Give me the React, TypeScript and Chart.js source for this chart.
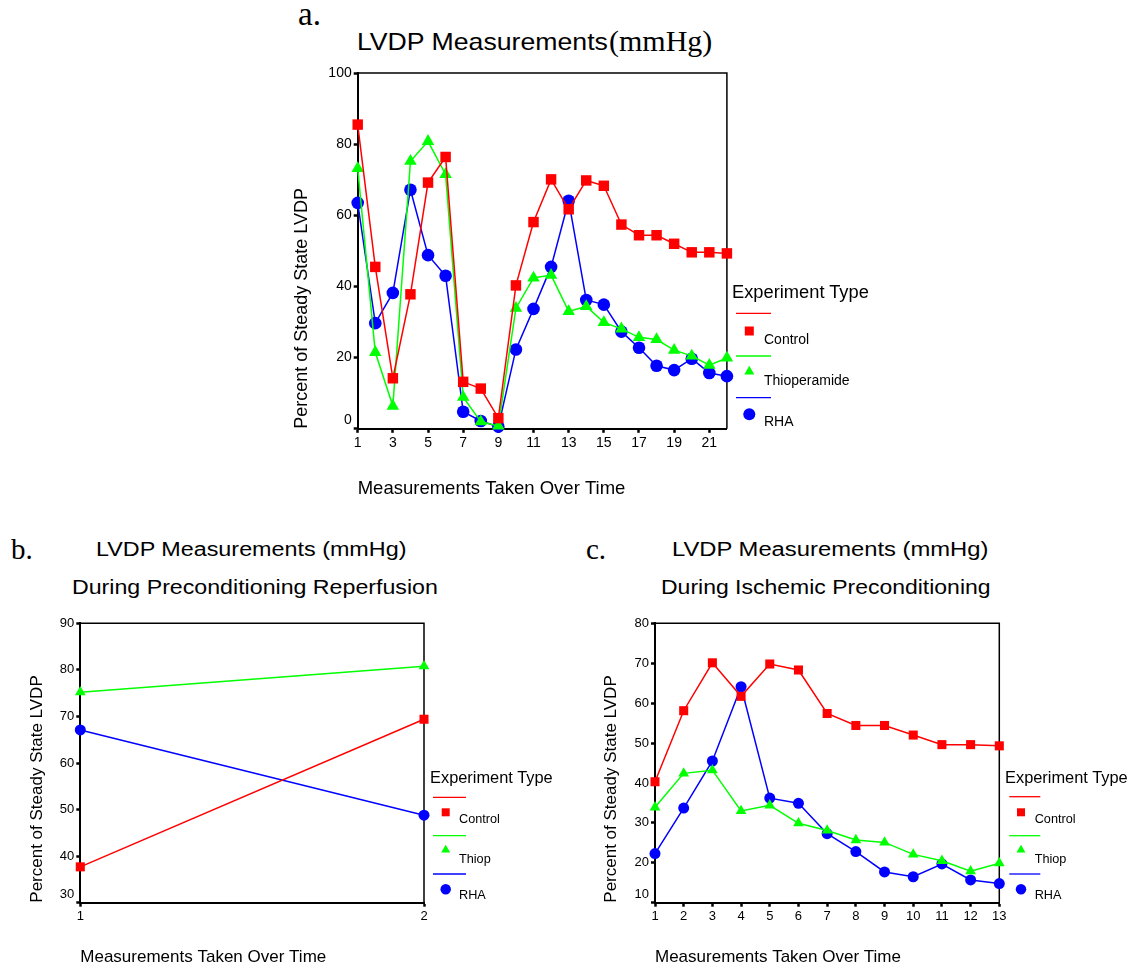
import React, { useEffect, useLayoutEffect, useRef } from 'react';
import { Chart, registerables } from 'chart.js';

Chart.register(...registerables);

const SANS = "'Liberation Sans', Arial, Helvetica, sans-serif";
const SERIF = "'Liberation Serif', 'Times New Roman', serif";
const RED = '#ff0000';
const GREEN = '#00ff00';
const BLUE = '#0000ff';

// ---------- data ----------
const namesLong = ['Control', 'Thioperamide', 'RHA'];
const namesShort = ['Control', 'Thiop', 'RHA'];

// chart a: all measurements
const measurementsA = [1, 2, 3, 4, 5, 6, 7, 8, 9, 10, 11, 12, 13, 14, 15, 16, 17, 18, 19, 20, 21, 22];
const controlA = [85.5, 45.5, 14.2, 37.8, 69.2, 76.4, 13.2, 11.3, 3.0, 40.3, 58.1, 70.1, 61.7, 69.8, 68.3, 57.4, 54.4, 54.4, 52.0, 49.6, 49.6, 49.3];
const thiopA = [73.2, 21.5, 6.4, 75.2, 80.8, 71.5, 8.9, 2.0, 0.8, 33.9, 42.4, 43.2, 33.0, 34.4, 29.9, 28.1, 25.7, 25.1, 22.1, 20.5, 17.9, 19.9];
const rhaA = [63.5, 29.7, 38.2, 67.2, 48.8, 43.0, 4.8, 2.2, 0.6, 22.3, 33.7, 45.5, 64.1, 36.2, 34.9, 27.3, 22.8, 17.7, 16.5, 19.7, 15.7, 14.8];
const xTicksA = [1, 3, 5, 7, 9, 11, 13, 15, 17, 19, 21];
const yTicksA = [0, 20, 40, 60, 80, 100];

// chart b: preconditioning reperfusion
const measurementsB = [1, 2];
const controlB = [37.7, 69.4];
const thiopB = [75.2, 80.8];
const rhaB = [67.1, 48.8];
const xTicksB = [1, 2];
const yTicksB = [30, 40, 50, 60, 70, 80, 90];

// chart c: ischemic preconditioning
const measurementsC = [1, 2, 3, 4, 5, 6, 7, 8, 9, 10, 11, 12, 13];
const controlC = [40.3, 58.1, 70.1, 61.7, 69.8, 68.3, 57.4, 54.4, 54.4, 52.0, 49.6, 49.6, 49.3];
const thiopC = [33.9, 42.4, 43.2, 33.0, 34.4, 29.9, 28.1, 25.7, 25.1, 22.1, 20.5, 17.9, 19.9];
const rhaC = [22.3, 33.7, 45.5, 64.1, 36.2, 34.9, 27.3, 22.8, 17.7, 16.5, 19.7, 15.7, 14.8];
const xTicksC = [1, 2, 3, 4, 5, 6, 7, 8, 9, 10, 11, 12, 13];
const yTicksC = [10, 20, 30, 40, 50, 60, 70, 80];

const X_TITLE = 'Measurements Taken Over Time';
const Y_TITLE = 'Percent of Steady State LVDP';

// ---------- chart ----------
const framePlugin = {
  id: 'frame',
  beforeDatasetsDraw(chart: any) {
    const { ctx, chartArea: a } = chart;
    ctx.save();
    ctx.strokeStyle = '#000';
    ctx.lineWidth = 1.5;
    ctx.beginPath();
    ctx.moveTo(a.left, a.top);
    ctx.lineTo(a.right, a.top);
    ctx.lineTo(a.right, a.bottom);
    ctx.stroke();
    ctx.restore();
  },
};

type Cfg = {
  left: number; top: number; width: number; height: number;
  yAxisW: number; padTop: number; padRight: number; xAxisH: number;
  xs: number[]; series: number[][]; names: string[];
  xMin: number; xMax: number; xTicks: number[];
  yMin: number; yMax: number; yTicks: number[];
  tick: number; yTitle: number; xTitle: number; yTitlePad: number; xTitlePad: number;
  radii: number[];
};

function LineChart({ cfg }: { cfg: Cfg }) {
  const ref = useRef<HTMLCanvasElement>(null);
  useEffect(() => {
    const styles = [
      { c: RED, s: 'rect' },
      { c: GREEN, s: 'triangle' },
      { c: BLUE, s: 'circle' },
    ];
    const grid = {
      display: true,
      drawOnChartArea: false,
      drawTicks: true,
      tickLength: 4,
      tickWidth: 2.5,
      tickColor: '#000',
    };
    const border = { display: true, color: '#000', width: 2 };
    const chart = new Chart(ref.current as HTMLCanvasElement, {
      type: 'line',
      data: {
        datasets: cfg.series.map((vals, i) => ({
          label: cfg.names[i],
          data: vals.map((v, j) => ({ x: cfg.xs[j], y: v })),
          borderColor: styles[i].c,
          backgroundColor: styles[i].c,
          borderWidth: 1.5,
          pointStyle: styles[i].s as any,
          pointRadius: cfg.radii[i],
          pointBorderWidth: 0,
          pointBackgroundColor: styles[i].c,
          pointBorderColor: styles[i].c,
          tension: 0,
          clip: false as any,
        })),
      },
      options: {
        responsive: false,
        maintainAspectRatio: false,
        animation: false,
        events: [],
        layout: { padding: { left: 0, top: cfg.padTop, right: cfg.padRight, bottom: 0 } },
        plugins: { legend: { display: false }, tooltip: { enabled: false } },
        scales: {
          x: {
            type: 'linear',
            min: cfg.xMin,
            max: cfg.xMax,
            afterFit: (s: any) => { s.height = cfg.xAxisH; },
            afterBuildTicks: (s: any) => { s.ticks = cfg.xTicks.map((v) => ({ value: v })); },
            ticks: {
              autoSkip: false,
              maxRotation: 0,
              padding: 2,
              color: '#000',
              font: { family: SANS, size: cfg.tick },
              callback: (v: any) => String(v),
            },
            grid: grid as any,
            border: border as any,
            title: {
              display: true,
              text: X_TITLE,
              align: 'start',
              color: '#000',
              font: { family: SANS, size: cfg.xTitle },
              padding: { top: 0, bottom: cfg.xTitlePad },
            },
          },
          y: {
            type: 'linear',
            min: cfg.yMin,
            max: cfg.yMax,
            afterFit: (s: any) => { s.width = cfg.yAxisW; },
            afterBuildTicks: (s: any) => { s.ticks = cfg.yTicks.map((v) => ({ value: v })); },
            ticks: {
              autoSkip: false,
              padding: 2,
              color: '#000',
              font: { family: SANS, size: cfg.tick },
              callback: (v: any, i: number) => (i === 0 ? [String(v), ''] : String(v)),
            },
            grid: grid as any,
            border: border as any,
            title: {
              display: true,
              text: Y_TITLE,
              align: 'start',
              color: '#000',
              font: { family: SANS, size: cfg.yTitle },
              padding: { top: cfg.yTitlePad, bottom: 0 },
            },
          },
        },
      } as any,
      plugins: [framePlugin],
    });
    return () => chart.destroy();
  }, [cfg]);
  return (
    <canvas
      ref={ref}
      width={cfg.width}
      height={cfg.height}
      style={{ position: 'absolute', left: cfg.left, top: cfg.top, width: cfg.width, height: cfg.height }}
    />
  );
}

// ---------- text ----------
function Txt({ x, base, size, family = SANS, w, children }: any) {
  const ref = useRef<HTMLDivElement>(null);
  useLayoutEffect(() => {
    const el = ref.current;
    if (!el || !w) return;
    const nat = el.offsetWidth;
    if (nat > 0) el.style.transform = `scaleX(${w / nat})`;
  }, [w]);
  const asc = family === SERIF ? 0.8375 : 0.8465;
  return (
    <div
      ref={ref}
      style={{
        position: 'absolute',
        left: x,
        top: base - asc * size,
        fontSize: size,
        lineHeight: `${size}px`,
        fontFamily: family,
        whiteSpace: 'nowrap',
        transformOrigin: '0 0',
        color: '#000',
      }}
    >
      {children}
    </div>
  );
}

type LegendCfg = {
  tx: number; tbase: number; tsize: number;
  lx1: number; lx2: number; mx: number; textX: number;
  rows: number[][]; fsize: number; labels: string[]; ms: number[];
};

function LegendMarks({ L }: { L: LegendCfg }) {
  const colors = [RED, GREEN, BLUE];
  return (
    <g>
      {L.rows.map((r, i) => (
        <line key={'l' + i} x1={L.lx1} x2={L.lx2} y1={r[0]} y2={r[0]} stroke={colors[i]} strokeWidth={1.3} />
      ))}
      <rect x={L.mx - L.ms[0] / 2} y={L.rows[0][1] - L.ms[0] / 2} width={L.ms[0]} height={L.ms[0]} fill={RED} />
      {(() => {
        const s = L.ms[1];
        const h = s * 0.866;
        const cy = L.rows[1][1];
        const pts = `${L.mx},${cy - (h * 2) / 3} ${L.mx - s / 2},${cy + h / 3} ${L.mx + s / 2},${cy + h / 3}`;
        return <polygon points={pts} fill={GREEN} />;
      })()}
      <circle cx={L.mx} cy={L.rows[2][1]} r={L.ms[2] / 2} fill={BLUE} />
    </g>
  );
}

function LegendText({ L }: { L: LegendCfg }) {
  return (
    <>
      <Txt x={L.tx} base={L.tbase} size={L.tsize}>Experiment Type</Txt>
      {L.rows.map((r, i) => (
        <Txt key={i} x={L.textX} base={r[2]} size={L.fsize}>{L.labels[i]}</Txt>
      ))}
    </>
  );
}

// ---------- configs ----------
const cfgA: Cfg = {
  left: 280, top: 60, width: 470, height: 440,
  yAxisW: 77.7, padTop: 13, padRight: 23.1, xAxisH: 71.2,
  xs: measurementsA, series: [controlA, thiopA, rhaA], names: namesLong,
  xMin: 1, xMax: 22, xTicks: xTicksA, yMin: 0, yMax: 100, yTicks: yTicksA,
  tick: 14, yTitle: 18, xTitle: 18.5, yTitlePad: 11, xTitlePad: 0,
  radii: [7.4, 7.2, 6.3],
};
const cfgB: Cfg = {
  left: 0, top: 610, width: 450, height: 358,
  yAxisW: 80.3, padTop: 13.3, padRight: 26, xAxisH: 65.3,
  xs: measurementsB, series: [controlB, thiopB, rhaB], names: namesShort,
  xMin: 1, xMax: 2, xTicks: xTicksB, yMin: 30, yMax: 90, yTicks: yTicksB,
  tick: 13, yTitle: 17, xTitle: 17, yTitlePad: 27, xTitlePad: 0.3,
  radii: [6.4, 6.2, 5.5],
};
const cfgC: Cfg = {
  left: 600, top: 610, width: 420, height: 358,
  yAxisW: 55, padTop: 13.3, padRight: 20.7, xAxisH: 65.3,
  xs: measurementsC, series: [controlC, thiopC, rhaC], names: namesShort,
  xMin: 1, xMax: 13, xTicks: xTicksC, yMin: 10, yMax: 80, yTicks: yTicksC,
  tick: 13, yTitle: 17, xTitle: 17, yTitlePad: 1.5, xTitlePad: 0.3,
  radii: [6.4, 6.2, 5.5],
};

const legA: LegendCfg = {
  tx: 732, tbase: 298.3, tsize: 18.3,
  lx1: 736, lx2: 771, mx: 749.3, textX: 764,
  rows: [[313.3, 331, 344], [356, 371.5, 385], [397.7, 414.3, 425.7]],
  fsize: 14, labels: namesLong, ms: [9, 10, 12],
};
const legB: LegendCfg = {
  tx: 430, tbase: 783.3, tsize: 16.4,
  lx1: 433, lx2: 466, mx: 445.7, textX: 459,
  rows: [[797.3, 812.3, 824], [835.7, 850, 863.3], [874, 889.3, 900]],
  fsize: 12.7, labels: namesShort, ms: [8, 9, 10.5],
};
const legC: LegendCfg = {
  tx: 1005, tbase: 783.3, tsize: 16.4,
  lx1: 1009.3, lx2: 1040.3, mx: 1021, textX: 1034.7,
  rows: [[796.7, 812.3, 824], [835.7, 850, 863.3], [874, 889.3, 900]],
  fsize: 12.7, labels: namesShort, ms: [8, 9, 10.5],
};

export default function App() {
  return (
    <div style={{ position: 'absolute', left: 0, top: 0, width: 1136, height: 968, background: '#fff', overflow: 'hidden' }}>
      {/* panel a */}
      <Txt x={298} base={26} size={33} family={SERIF}>a.</Txt>
      <Txt x={357} base={50.7} size={24} w={251}>LVDP Measurements</Txt>
      <Txt x={609} base={51.5} size={30} family={SERIF}>(mmHg)</Txt>
      <LineChart cfg={cfgA} />

      {/* panel b */}
      <Txt x={11} base={559} size={29} family={SERIF}>b.</Txt>
      <Txt x={96} base={556.8} size={19.5} w={310}>LVDP Measurements (mmHg)</Txt>
      <Txt x={72} base={594.5} size={19.5} w={366}>During Preconditioning Reperfusion</Txt>
      <LineChart cfg={cfgB} />

      {/* panel c */}
      <Txt x={586} base={559} size={29} family={SERIF}>c.</Txt>
      <Txt x={672} base={556.8} size={19.5} w={316}>LVDP Measurements (mmHg)</Txt>
      <Txt x={661} base={594.5} size={19.5} w={330}>During Ischemic Preconditioning</Txt>
      <LineChart cfg={cfgC} />

      <svg width={1136} height={968} style={{ position: 'absolute', left: 0, top: 0, pointerEvents: 'none' }}>
        <LegendMarks L={legA} />
        <LegendMarks L={legB} />
        <LegendMarks L={legC} />
      </svg>
      <LegendText L={legA} />
      <LegendText L={legB} />
      <LegendText L={legC} />
    </div>
  );
}
